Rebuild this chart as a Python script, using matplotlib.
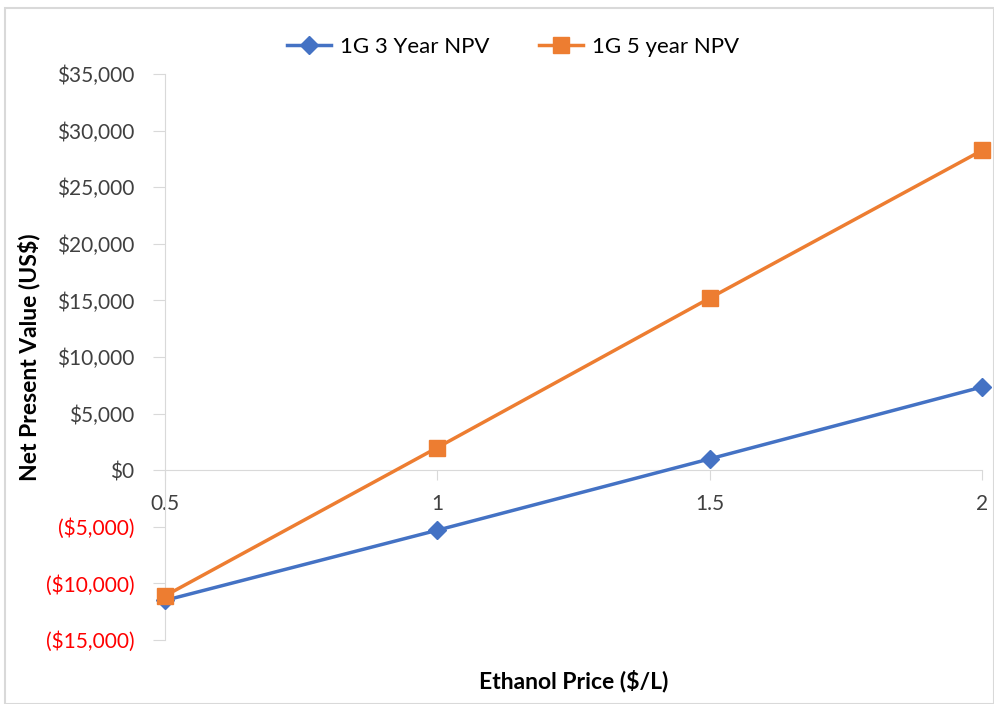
import matplotlib.pyplot as plt
from matplotlib.patches import Rectangle

price = [0.5, 1, 1.5, 2]
npv_3yr = [-11500, -5300, 1000, 7350]
npv_5yr = [-11100, 2000, 15200, 28250]
yticks = list(range(-15000, 35001, 5000))

plt.rcParams['font.family'] = ['Lato', 'DejaVu Sans']

fig = plt.figure(figsize=(9.94, 7.04), dpi=100)
ax = fig.add_axes([0.166, 0.0909, 0.822, 0.804])

ax.plot(price, npv_3yr, color='#4472C4', lw=2.5, marker='D', ms=9,
        label='1G 3 Year NPV', clip_on=False, zorder=3)
ax.plot(price, npv_5yr, color='#ED7D31', lw=2.5, marker='s', ms=11,
        label='1G 5 year NPV', clip_on=False, zorder=3)

ax.set_xlim(0.5, 2)
ax.set_ylim(-15000, 35000)
ax.set_xticks(price)
ax.set_xticklabels(['0.5', '1', '1.5', '2'])
ax.set_yticks(yticks)


def fmt(v):
    if v < 0:
        return '(${:,})'.format(-v)
    return '${:,}'.format(v)


ax.set_yticklabels([fmt(v) for v in yticks])

for s in ['top', 'right']:
    ax.spines[s].set_visible(False)
ax.spines['bottom'].set_position(('data', 0))
ax.spines['bottom'].set_color('#D9D9D9')
ax.spines['left'].set_color('#D9D9D9')
ax.tick_params(axis='y', colors='#D9D9D9', length=9, labelsize=15, pad=13)
ax.tick_params(axis='x', colors='#D9D9D9', length=7, labelsize=15, labelcolor='#404040', pad=10)
for lab, v in zip(ax.get_yticklabels(), yticks):
    lab.set_color('#FF0000' if v < 0 else '#404040')

ax.set_ylabel('Net Present Value (US$)', fontsize=16.5, fontweight='bold')
ax.yaxis.set_label_coords(-0.152, 0.5)
ax.set_xlabel('Ethanol Price ($/L)', fontsize=16.5, fontweight='bold')
ax.xaxis.set_label_coords(0.5, -0.052)

ax.legend(loc='center', bbox_to_anchor=(0.516, 0.933), bbox_transform=fig.transFigure,
          ncol=2, frameon=False, fontsize=16, handlelength=2.0, handletextpad=0.4,
          columnspacing=2.2)

fig.patches.append(Rectangle((0.005, 0.0), 0.995, 0.988, transform=fig.transFigure,
                             fill=False, edgecolor='#D9D9D9', lw=1.5))

fig.savefig('out.png', dpi=100)
